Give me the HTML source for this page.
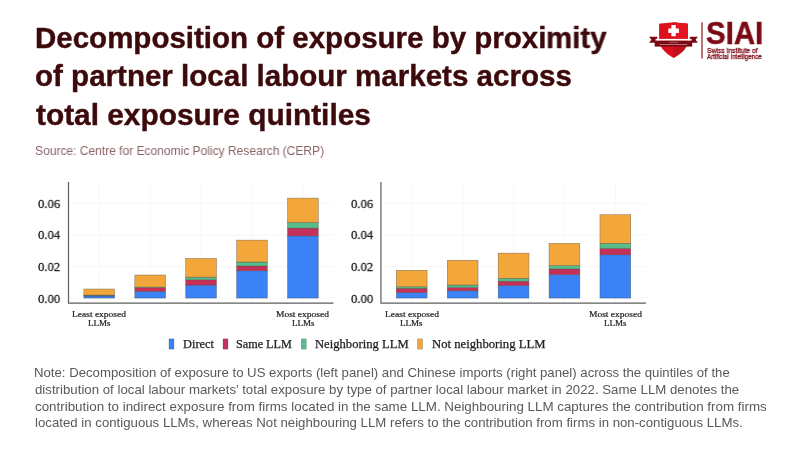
<!DOCTYPE html>
<html><head><meta charset="utf-8"><title>Decomposition of exposure</title>
<style>
html,body{margin:0;padding:0;background:#fff}
body{width:800px;height:450px;position:relative;overflow:hidden;font-family:"Liberation Sans",sans-serif}
.t{position:absolute;white-space:nowrap;line-height:1;transform-origin:0 0;margin:0;will-change:transform}
svg{position:absolute;left:0;top:0}
</style></head><body>
<svg width="800" height="450" viewBox="0 0 800 450"><line x1="69" y1="203.3" x2="333.3" y2="203.3" stroke="#f5f5f5" stroke-width="0.8"/><line x1="69" y1="234.9" x2="333.3" y2="234.9" stroke="#f5f5f5" stroke-width="0.8"/><line x1="69" y1="266.5" x2="333.3" y2="266.5" stroke="#f5f5f5" stroke-width="0.8"/><line x1="69" y1="298.1" x2="333.3" y2="298.1" stroke="#f5f5f5" stroke-width="0.8"/><line x1="99.25" y1="182" x2="99.25" y2="303" stroke="#f5f5f5" stroke-width="0.8"/><line x1="150.2" y1="182" x2="150.2" y2="303" stroke="#f5f5f5" stroke-width="0.8"/><line x1="201.1" y1="182" x2="201.1" y2="303" stroke="#f5f5f5" stroke-width="0.8"/><line x1="252.0" y1="182" x2="252.0" y2="303" stroke="#f5f5f5" stroke-width="0.8"/><line x1="302.9" y1="182" x2="302.9" y2="303" stroke="#f5f5f5" stroke-width="0.8"/><rect x="83.85" y="296.00" width="30.8" height="2.10" fill="#3b82f6" stroke="#4a4a4a" stroke-opacity="0.7" stroke-width="0.5"/><rect x="83.85" y="295.40" width="30.8" height="0.60" fill="#c62f57" stroke="#4a4a4a" stroke-opacity="0.7" stroke-width="0.5"/><rect x="83.85" y="295.00" width="30.8" height="0.40" fill="#58bd88" stroke="#4a4a4a" stroke-opacity="0.7" stroke-width="0.5"/><rect x="83.85" y="289.00" width="30.8" height="6.00" fill="#f3a73b" stroke="#4a4a4a" stroke-opacity="0.7" stroke-width="0.5"/><rect x="134.80" y="291.30" width="30.8" height="6.80" fill="#3b82f6" stroke="#4a4a4a" stroke-opacity="0.7" stroke-width="0.5"/><rect x="134.80" y="287.60" width="30.8" height="3.70" fill="#c62f57" stroke="#4a4a4a" stroke-opacity="0.7" stroke-width="0.5"/><rect x="134.80" y="287.10" width="30.8" height="0.50" fill="#58bd88" stroke="#4a4a4a" stroke-opacity="0.7" stroke-width="0.5"/><rect x="134.80" y="275.00" width="30.8" height="12.10" fill="#f3a73b" stroke="#4a4a4a" stroke-opacity="0.7" stroke-width="0.5"/><rect x="185.70" y="285.10" width="30.8" height="13.00" fill="#3b82f6" stroke="#4a4a4a" stroke-opacity="0.7" stroke-width="0.5"/><rect x="185.70" y="279.80" width="30.8" height="5.30" fill="#c62f57" stroke="#4a4a4a" stroke-opacity="0.7" stroke-width="0.5"/><rect x="185.70" y="277.10" width="30.8" height="2.70" fill="#58bd88" stroke="#4a4a4a" stroke-opacity="0.7" stroke-width="0.5"/><rect x="185.70" y="258.40" width="30.8" height="18.70" fill="#f3a73b" stroke="#4a4a4a" stroke-opacity="0.7" stroke-width="0.5"/><rect x="236.60" y="270.80" width="30.8" height="27.30" fill="#3b82f6" stroke="#4a4a4a" stroke-opacity="0.7" stroke-width="0.5"/><rect x="236.60" y="266.00" width="30.8" height="4.80" fill="#c62f57" stroke="#4a4a4a" stroke-opacity="0.7" stroke-width="0.5"/><rect x="236.60" y="262.00" width="30.8" height="4.00" fill="#58bd88" stroke="#4a4a4a" stroke-opacity="0.7" stroke-width="0.5"/><rect x="236.60" y="240.10" width="30.8" height="21.90" fill="#f3a73b" stroke="#4a4a4a" stroke-opacity="0.7" stroke-width="0.5"/><rect x="287.50" y="235.90" width="30.8" height="62.20" fill="#3b82f6" stroke="#4a4a4a" stroke-opacity="0.7" stroke-width="0.5"/><rect x="287.50" y="228.10" width="30.8" height="7.80" fill="#c62f57" stroke="#4a4a4a" stroke-opacity="0.7" stroke-width="0.5"/><rect x="287.50" y="222.40" width="30.8" height="5.70" fill="#58bd88" stroke="#4a4a4a" stroke-opacity="0.7" stroke-width="0.5"/><rect x="287.50" y="198.10" width="30.8" height="24.30" fill="#f3a73b" stroke="#4a4a4a" stroke-opacity="0.7" stroke-width="0.5"/><path d="M68.5 182 V303.2 H333.5" fill="none" stroke="#5e5e5e" stroke-width="1.2"/><line x1="381.45" y1="203.3" x2="645.75" y2="203.3" stroke="#f5f5f5" stroke-width="0.8"/><line x1="381.45" y1="234.9" x2="645.75" y2="234.9" stroke="#f5f5f5" stroke-width="0.8"/><line x1="381.45" y1="266.5" x2="645.75" y2="266.5" stroke="#f5f5f5" stroke-width="0.8"/><line x1="381.45" y1="298.1" x2="645.75" y2="298.1" stroke="#f5f5f5" stroke-width="0.8"/><line x1="411.7" y1="182" x2="411.7" y2="303" stroke="#f5f5f5" stroke-width="0.8"/><line x1="462.65" y1="182" x2="462.65" y2="303" stroke="#f5f5f5" stroke-width="0.8"/><line x1="513.55" y1="182" x2="513.55" y2="303" stroke="#f5f5f5" stroke-width="0.8"/><line x1="564.45" y1="182" x2="564.45" y2="303" stroke="#f5f5f5" stroke-width="0.8"/><line x1="615.3499999999999" y1="182" x2="615.3499999999999" y2="303" stroke="#f5f5f5" stroke-width="0.8"/><rect x="396.30" y="292.70" width="30.8" height="5.40" fill="#3b82f6" stroke="#4a4a4a" stroke-opacity="0.7" stroke-width="0.5"/><rect x="396.30" y="288.30" width="30.8" height="4.40" fill="#c62f57" stroke="#4a4a4a" stroke-opacity="0.7" stroke-width="0.5"/><rect x="396.30" y="286.80" width="30.8" height="1.50" fill="#58bd88" stroke="#4a4a4a" stroke-opacity="0.7" stroke-width="0.5"/><rect x="396.30" y="270.30" width="30.8" height="16.50" fill="#f3a73b" stroke="#4a4a4a" stroke-opacity="0.7" stroke-width="0.5"/><rect x="447.25" y="290.80" width="30.8" height="7.30" fill="#3b82f6" stroke="#4a4a4a" stroke-opacity="0.7" stroke-width="0.5"/><rect x="447.25" y="287.50" width="30.8" height="3.30" fill="#c62f57" stroke="#4a4a4a" stroke-opacity="0.7" stroke-width="0.5"/><rect x="447.25" y="285.00" width="30.8" height="2.50" fill="#58bd88" stroke="#4a4a4a" stroke-opacity="0.7" stroke-width="0.5"/><rect x="447.25" y="260.20" width="30.8" height="24.80" fill="#f3a73b" stroke="#4a4a4a" stroke-opacity="0.7" stroke-width="0.5"/><rect x="498.15" y="285.40" width="30.8" height="12.70" fill="#3b82f6" stroke="#4a4a4a" stroke-opacity="0.7" stroke-width="0.5"/><rect x="498.15" y="281.20" width="30.8" height="4.20" fill="#c62f57" stroke="#4a4a4a" stroke-opacity="0.7" stroke-width="0.5"/><rect x="498.15" y="278.30" width="30.8" height="2.90" fill="#58bd88" stroke="#4a4a4a" stroke-opacity="0.7" stroke-width="0.5"/><rect x="498.15" y="253.10" width="30.8" height="25.20" fill="#f3a73b" stroke="#4a4a4a" stroke-opacity="0.7" stroke-width="0.5"/><rect x="549.05" y="274.60" width="30.8" height="23.50" fill="#3b82f6" stroke="#4a4a4a" stroke-opacity="0.7" stroke-width="0.5"/><rect x="549.05" y="269.00" width="30.8" height="5.60" fill="#c62f57" stroke="#4a4a4a" stroke-opacity="0.7" stroke-width="0.5"/><rect x="549.05" y="265.50" width="30.8" height="3.50" fill="#58bd88" stroke="#4a4a4a" stroke-opacity="0.7" stroke-width="0.5"/><rect x="549.05" y="243.30" width="30.8" height="22.20" fill="#f3a73b" stroke="#4a4a4a" stroke-opacity="0.7" stroke-width="0.5"/><rect x="599.95" y="254.80" width="30.8" height="43.30" fill="#3b82f6" stroke="#4a4a4a" stroke-opacity="0.7" stroke-width="0.5"/><rect x="599.95" y="248.40" width="30.8" height="6.40" fill="#c62f57" stroke="#4a4a4a" stroke-opacity="0.7" stroke-width="0.5"/><rect x="599.95" y="243.30" width="30.8" height="5.10" fill="#58bd88" stroke="#4a4a4a" stroke-opacity="0.7" stroke-width="0.5"/><rect x="599.95" y="214.70" width="30.8" height="28.60" fill="#f3a73b" stroke="#4a4a4a" stroke-opacity="0.7" stroke-width="0.5"/><path d="M380.95 182 V303.2 H645.95" fill="none" stroke="#5e5e5e" stroke-width="1.2"/><rect x="169" y="338.9" width="5" height="10.2" fill="#3b82f6" stroke="#4a4a4a" stroke-opacity="0.6" stroke-width="0.4"/><rect x="223" y="338.9" width="5" height="10.2" fill="#c62f57" stroke="#4a4a4a" stroke-opacity="0.6" stroke-width="0.4"/><rect x="301.25" y="338.9" width="5" height="10.2" fill="#58bd88" stroke="#4a4a4a" stroke-opacity="0.6" stroke-width="0.4"/><rect x="417.5" y="338.9" width="5" height="10.2" fill="#f3a73b" stroke="#4a4a4a" stroke-opacity="0.6" stroke-width="0.4"/><g>
<path d="M659.1 24.6 Q659.1 23.7 660.1 23.6 Q667 23.2 673.5 22.3 Q680 23.2 686.9 23.6 Q687.9 23.7 687.9 24.6 V40 Q687.9 50 673.5 57.9 Q659.1 50 659.1 40 Z" fill="#dc0f1a"/>
<path d="M673.5 22.3 Q680 23.2 686.9 23.6 Q687.9 23.7 687.9 24.6 V40 L673.5 40 Z" fill="#e41420"/>
<path d="M673.5 46 H686.6 Q684.5 52 673.5 57.9 Z" fill="#c1121b"/>
<path d="M668.3 28.4 H671.4 V25.1 H675.8 V28.4 H678.9 V33.1 H675.8 V36.2 H671.4 V33.1 H668.3 Z" fill="#fff"/>
<path d="M649.1 36.8 H657.2 V42.7 H649.1 L651.4 39.75 Z" fill="#7c0a14"/>
<path d="M697.9 36.8 H689.8 V42.7 H697.9 L695.6 39.75 Z" fill="#7c0a14"/>
<rect x="655.6" y="38.9" width="36" height="1.9" fill="#fff"/>
<rect x="654.7" y="40.7" width="37.5" height="5.9" fill="#7c0a14"/>
<rect x="669" y="41.9" width="9.3" height="0.8" fill="#f2d9db" opacity="0.45"/>
<rect x="659.8" y="44" width="27.4" height="1" fill="#f2d9db" opacity="0.5"/>
<rect x="701.4" y="22.3" width="1.2" height="36.2" fill="#8a1a22"/>
</g></svg>
<h1 class="t" style="left:35.15px;top:23.00px;font-family:'Liberation Sans', sans-serif;font-size:29.5px;font-weight:700;color:#3d0a0c;-webkit-text-stroke:0.4px #3d0a0c;transform:scaleX(0.9991)">Decomposition of exposure by proximity</h1>
<div class="t" style="left:35.30px;top:61.00px;font-family:'Liberation Sans', sans-serif;font-size:29.5px;font-weight:700;color:#3d0a0c;-webkit-text-stroke:0.4px #3d0a0c;transform:scaleX(1.0013)">of partner local labour markets across</div>
<div class="t" style="left:36.25px;top:100.00px;font-family:'Liberation Sans', sans-serif;font-size:29.5px;font-weight:700;color:#3d0a0c;-webkit-text-stroke:0.4px #3d0a0c;transform:scaleX(1.0114)">total exposure quintiles</div>
<div class="t" style="left:35.11px;top:145.00px;font-family:'Liberation Sans', sans-serif;font-size:12.2px;font-weight:400;color:#8a6466;transform:scaleX(0.9856)">Source: Centre for Economic Policy Research (CERP)</div>
<div class="t" style="left:34.48px;top:367.00px;font-family:'Liberation Sans', sans-serif;font-size:12.9px;font-weight:400;color:#595959;transform:scaleX(1.0221)">Note: Decomposition of exposure to US exports (left panel) and Chinese imports (right panel) across the quintiles of the</div>
<div class="t" style="left:34.99px;top:384.00px;font-family:'Liberation Sans', sans-serif;font-size:12.9px;font-weight:400;color:#595959;transform:scaleX(1.0277)">distribution of local labour markets’ total exposure by type of partner local labour market in 2022. Same LLM denotes the</div>
<div class="t" style="left:34.98px;top:401.00px;font-family:'Liberation Sans', sans-serif;font-size:12.9px;font-weight:400;color:#595959;transform:scaleX(1.0368)">contribution to indirect exposure from firms located in the same LLM. Neighbouring LLM captures the contribution from firms</div>
<div class="t" style="left:34.73px;top:417.00px;font-family:'Liberation Sans', sans-serif;font-size:12.9px;font-weight:400;color:#595959;transform:scaleX(1.0257)">located in contiguous LLMs, whereas Not neighbouring LLM refers to the contribution from firms in non-contiguous LLMs.</div>
<div class="t" style="left:38.40px;top:197.00px;font-family:'Liberation Serif', serif;font-size:13.2px;font-weight:400;color:#222;-webkit-text-stroke:0.3px #222;transform:scaleX(0.9619)">0.06</div>
<div class="t" style="left:38.40px;top:228.00px;font-family:'Liberation Serif', serif;font-size:13.2px;font-weight:400;color:#222;-webkit-text-stroke:0.3px #222;transform:scaleX(0.9619)">0.04</div>
<div class="t" style="left:38.40px;top:260.00px;font-family:'Liberation Serif', serif;font-size:13.2px;font-weight:400;color:#222;-webkit-text-stroke:0.3px #222;transform:scaleX(0.9619)">0.02</div>
<div class="t" style="left:38.40px;top:292.00px;font-family:'Liberation Serif', serif;font-size:13.2px;font-weight:400;color:#222;-webkit-text-stroke:0.3px #222;transform:scaleX(0.9619)">0.00</div>
<div class="t" style="left:72.11px;top:311.00px;font-family:'Liberation Serif', serif;font-size:8.3px;font-weight:400;color:#222;-webkit-text-stroke:0.2px #222;transform:scaleX(1.1426)">Least exposed</div>
<div class="t" style="left:87.98px;top:320.00px;font-family:'Liberation Serif', serif;font-size:8.3px;font-weight:400;color:#222;-webkit-text-stroke:0.2px #222;transform:scaleX(1.0864)">LLMs</div>
<div class="t" style="left:276.26px;top:311.00px;font-family:'Liberation Serif', serif;font-size:8.3px;font-weight:400;color:#222;-webkit-text-stroke:0.2px #222;transform:scaleX(1.1413)">Most exposed</div>
<div class="t" style="left:291.53px;top:320.00px;font-family:'Liberation Serif', serif;font-size:8.3px;font-weight:400;color:#222;-webkit-text-stroke:0.2px #222;transform:scaleX(1.0864)">LLMs</div>
<div class="t" style="left:350.85px;top:197.00px;font-family:'Liberation Serif', serif;font-size:13.2px;font-weight:400;color:#222;-webkit-text-stroke:0.3px #222;transform:scaleX(0.9619)">0.06</div>
<div class="t" style="left:350.85px;top:228.00px;font-family:'Liberation Serif', serif;font-size:13.2px;font-weight:400;color:#222;-webkit-text-stroke:0.3px #222;transform:scaleX(0.9619)">0.04</div>
<div class="t" style="left:350.85px;top:260.00px;font-family:'Liberation Serif', serif;font-size:13.2px;font-weight:400;color:#222;-webkit-text-stroke:0.3px #222;transform:scaleX(0.9619)">0.02</div>
<div class="t" style="left:350.85px;top:292.00px;font-family:'Liberation Serif', serif;font-size:13.2px;font-weight:400;color:#222;-webkit-text-stroke:0.3px #222;transform:scaleX(0.9619)">0.00</div>
<div class="t" style="left:384.56px;top:311.00px;font-family:'Liberation Serif', serif;font-size:8.3px;font-weight:400;color:#222;-webkit-text-stroke:0.2px #222;transform:scaleX(1.1426)">Least exposed</div>
<div class="t" style="left:400.43px;top:320.00px;font-family:'Liberation Serif', serif;font-size:8.3px;font-weight:400;color:#222;-webkit-text-stroke:0.2px #222;transform:scaleX(1.0864)">LLMs</div>
<div class="t" style="left:588.71px;top:311.00px;font-family:'Liberation Serif', serif;font-size:8.3px;font-weight:400;color:#222;-webkit-text-stroke:0.2px #222;transform:scaleX(1.1413)">Most exposed</div>
<div class="t" style="left:603.98px;top:320.00px;font-family:'Liberation Serif', serif;font-size:8.3px;font-weight:400;color:#222;-webkit-text-stroke:0.2px #222;transform:scaleX(1.0864)">LLMs</div>
<div class="t" style="left:182.75px;top:338.00px;font-family:'Liberation Serif', serif;font-size:12.2px;font-weight:400;color:#222;-webkit-text-stroke:0.25px #222;transform:scaleX(1.0165)">Direct</div>
<div class="t" style="left:236.25px;top:338.00px;font-family:'Liberation Serif', serif;font-size:12.2px;font-weight:400;color:#222;-webkit-text-stroke:0.25px #222;transform:scaleX(1.0000)">Same LLM</div>
<div class="t" style="left:315.24px;top:338.00px;font-family:'Liberation Serif', serif;font-size:12.2px;font-weight:400;color:#222;-webkit-text-stroke:0.25px #222;transform:scaleX(1.0361)">Neighboring LLM</div>
<div class="t" style="left:431.74px;top:338.00px;font-family:'Liberation Serif', serif;font-size:12.2px;font-weight:400;color:#222;-webkit-text-stroke:0.25px #222;transform:scaleX(1.0415)">Not neighboring LLM</div>
<div class="t" style="left:706.48px;top:18.00px;font-family:'Liberation Sans', sans-serif;font-size:30.6px;font-weight:700;color:#7c0a14;-webkit-text-stroke:0.5px #7c0a14;transform:scaleX(0.9614)">SIAI</div>
<div class="t" style="left:706.96px;top:47.00px;font-family:'Liberation Sans', sans-serif;font-size:7.0px;font-weight:400;color:#7c0a14;-webkit-text-stroke:0.3px #7c0a14;transform:scaleX(0.9638)">Swiss Institute of</div>
<div class="t" style="left:707.20px;top:53.00px;font-family:'Liberation Sans', sans-serif;font-size:7.0px;font-weight:400;color:#7c0a14;-webkit-text-stroke:0.3px #7c0a14;transform:scaleX(0.8826)">Artificial Intelligence</div>
</body></html>
